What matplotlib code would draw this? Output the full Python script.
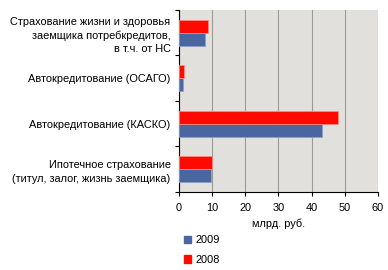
from matplotlib import pyplot as plt
from matplotlib.patches import Patch
import numpy as np

categories = [
    "Страхование жизни и здоровья\nзаемщика потребкредитов,\nв т.ч. от НС",
    "Автокредитование (ОСАГО)",
    "Автокредитование (КАСКО)",
    "Ипотечное страхование\n(титул, залог, жизнь заемщика)",
]
values_2009 = [8.0, 1.1, 43.1, 9.6]
values_2008 = [8.9, 1.5, 48.0, 10.1]
xticks = [0, 10, 20, 30, 40, 50, 60]

blue = "#4A66A0"
red = "#FF0A00"

plt.rcParams['font.family'] = ['Liberation Sans', 'DejaVu Sans']
plt.rcParams['font.size'] = 7.9

fig = plt.figure(figsize=(3.88, 2.70), dpi=100)
ax = fig.add_axes([0.461, 0.289, 0.513, 0.674])
ax.set_facecolor("#E1E0DC")

y = np.arange(len(categories))
h = 0.29
ax.barh(y + h / 2, values_2009, height=h, color=blue, edgecolor="#8EA0C6", linewidth=0.6, zorder=3)
ax.barh(y - h / 2, values_2008, height=h, color=red, edgecolor="#FF8A80", linewidth=0.6, zorder=3)

ax.set_ylim(len(categories) - 0.5, -0.5)
ax.set_xlim(0, 60)
ax.set_xticks(xticks)
ax.set_yticks(y)
ax.set_yticklabels(categories, ha="right", multialignment="right", linespacing=1.45)
ax.tick_params(axis="y", length=0, pad=6)
ax.set_yticks(np.arange(-0.5, len(categories)), minor=True)
ax.tick_params(axis="y", which="minor", length=3, width=0.8)
ax.tick_params(axis="x", length=3, width=0.8, pad=5)
ax.xaxis.grid(True, color="#9A9A9A", linewidth=0.8, zorder=0)
ax.set_axisbelow(True)
for s in ["top", "right"]:
    ax.spines[s].set_visible(False)
ax.spines["left"].set_linewidth(0.8)
ax.spines["bottom"].set_linewidth(0.8)
ax.set_xlabel("млрд. руб.", labelpad=4)

handles = [Patch(color=blue, label="2009"), Patch(color=red, label="2008")]
fig.legend(handles=handles, loc="upper left", bbox_to_anchor=(0.462, 0.145),
           frameon=False, handlelength=0.7, handleheight=0.7, handletextpad=0.35,
           labelspacing=0.85, borderaxespad=0)

fig.savefig("out.png", dpi=100)
